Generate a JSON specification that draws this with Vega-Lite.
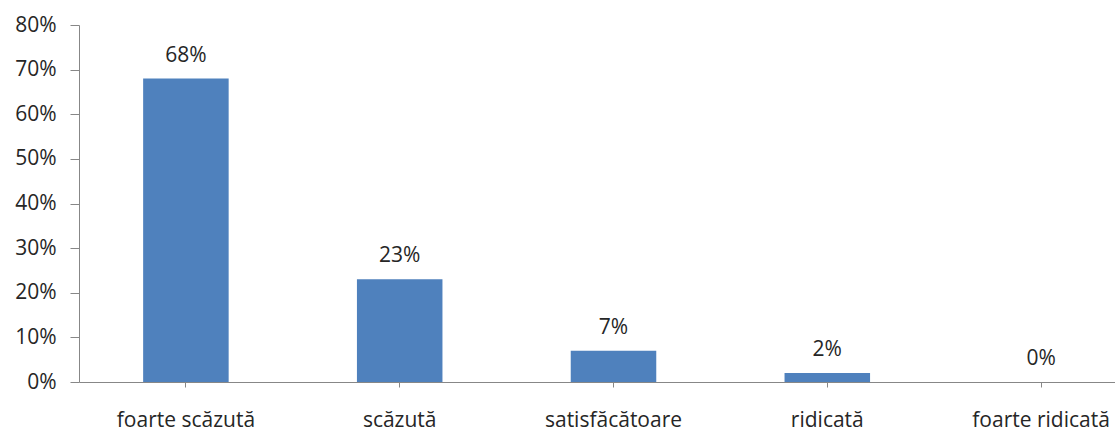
{
  "$schema": "https://vega.github.io/schema/vega-lite/v6.json",
  "width": 1069,
  "height": 357,
  "autosize": {"type": "none"},
  "padding": {"left": 79, "top": 25, "right": 0, "bottom": 47},
  "background": "white",
  "config": {
    "view": {"stroke": null},
    "font": "Open Sans",
    "axis": {"grid": false}
  },
  "data": {
    "values": [
      {"categorie": "foarte scăzută", "procent": 0.68},
      {"categorie": "scăzută", "procent": 0.23},
      {"categorie": "satisfăcătoare", "procent": 0.07},
      {"categorie": "ridicată", "procent": 0.02},
      {"categorie": "foarte ridicată", "procent": 0.0}
    ]
  },
  "encoding": {
    "x": {
      "field": "categorie",
      "type": "nominal",
      "sort": null,
      "scale": {"paddingInner": 0.6, "paddingOuter": 0.3},
      "axis": {
        "title": null,
        "labelAngle": 0,
        "labelFont": "Open Sans",
        "labelFontSize": 21,
        "labelColor": "#262626",
        "labelPadding": 22,
        "tickSize": 5,
        "tickColor": "#878787",
        "domainColor": "#878787",
        "labelOverlap": false
      }
    },
    "y": {
      "field": "procent",
      "type": "quantitative",
      "scale": {"domain": [0, 0.8], "nice": false},
      "axis": {
        "title": null,
        "format": ".0%",
        "values": [0, 0.1, 0.2, 0.3, 0.4, 0.5, 0.6, 0.7, 0.8],
        "labelFont": "Open Sans",
        "labelFontSize": 21,
        "labelColor": "#262626",
        "labelPadding": 14,
        "tickSize": 9,
        "tickColor": "#878787",
        "domainColor": "#878787"
      }
    }
  },
  "layer": [
    {"mark": {"type": "bar", "color": "#4F81BD"}},
    {
      "mark": {
        "type": "text",
        "baseline": "alphabetic",
        "dy": -17,
        "font": "Open Sans",
        "fontSize": 21,
        "color": "#262626"
      },
      "encoding": {
        "text": {"field": "procent", "type": "quantitative", "format": ".0%"}
      }
    }
  ]
}
